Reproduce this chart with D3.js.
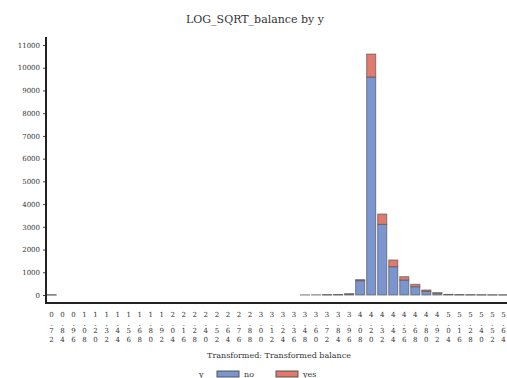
<!DOCTYPE html>
<html>
<head>
<meta charset="utf-8">
<style>
  body { margin: 0; background: #fff; }
  svg { display: block; }
  text { font-family: "DejaVu Serif", serif; fill: #333; }
</style>
</head>
<body>
<svg width="507" height="378"></svg>
<script src="https://d3js.org/d3.v7.min.js"></script>
<script>
// bin labels (transformed balance)
const categories = ["0.72","0.84","0.96","1.08","1.20","1.32","1.44","1.56","1.68","1.80",
  "1.92","2.04","2.16","2.28","2.40","2.52","2.64","2.76","2.88","3.00",
  "3.12","3.24","3.36","3.48","3.60","3.72","3.84","3.96","4.08","4.20",
  "4.32","4.44","4.56","4.68","4.80","4.92","5.04","5.16","5.28","5.40",
  "5.52","5.64"];
// counts per bin, null = empty bin
const noValues = [5,null,null,null,null,null,null,null,null,null,
  null,null,null,null,null,null,null,null,null,null,
  null,null,null,5,8,10,15,45,630,9590,
  3110,1245,660,365,160,80,20,12,8,5,
  4,3];
const yesValues = [1,null,null,null,null,null,null,null,null,null,
  null,null,null,null,null,null,null,null,null,null,
  null,null,null,0,0,1,2,5,45,1010,
  450,295,145,105,60,20,5,3,2,1,
  1,1];
const yTicks = [0,1000,2000,3000,4000,5000,6000,7000,8000,9000,10000,11000];
const seriesNames = ["no","yes"];
const colors = {no: "#7a95cf", yes: "#e07a6c"};

const svg = d3.select("svg");

const x = d3.scaleBand().domain(categories).range([46, 509]).paddingInner(0.18).paddingOuter(0.09);
const y = d3.scaleLinear().domain([-352, 11352]).range([303, 37]);

// title
svg.append("text").attr("x", 255).attr("y", 23).attr("text-anchor", "middle")
  .attr("font-size", "11px").text("LOG_SQRT_balance by y");

// bars
const rows = categories.map((c, i) => ({cat: c, no: noValues[i], yes: yesValues[i]}))
  .filter(d => d.no !== null);
const stacked = d3.stack().keys(seriesNames)(rows);

svg.append("g").selectAll("g").data(stacked).enter().append("g")
  .attr("fill", d => colors[d.key])
  .selectAll("rect").data(d => d).enter().append("rect")
  .attr("x", d => x(d.data.cat))
  .attr("width", x.bandwidth())
  .attr("y", d => y(d[1]))
  .attr("height", d => Math.max(0, y(d[0]) - y(d[1])))
  .attr("stroke", "#555")
  .attr("stroke-opacity", 0.7)
  .attr("stroke-width", 1);

// y axis
const yAxis = svg.append("g").attr("transform", "translate(46,0)")
  .call(d3.axisLeft(y).tickValues(yTicks).tickFormat(d3.format("d")).tickSize(3).tickPadding(3));
yAxis.select(".domain").remove();
yAxis.selectAll("text").attr("font-size", "7px").attr("fill", "#444").style("font-family", "DejaVu Serif");
yAxis.selectAll("line").attr("stroke", "#444");
svg.append("line").attr("x1", 46).attr("x2", 46).attr("y1", 37).attr("y2", 304)
  .attr("stroke", "#222").attr("stroke-width", 2);

// x axis line
svg.append("line").attr("x1", 45).attr("x2", 507).attr("y1", 303).attr("y2", 303)
  .attr("stroke", "#222").attr("stroke-width", 2);

// x tick labels, one character per line
const xl = svg.append("g").selectAll("text").data(categories).enter().append("text")
  .attr("x", d => x(d) + x.bandwidth() / 2)
  .attr("y", 317)
  .attr("text-anchor", "middle")
  .attr("font-size", "7px")
  .attr("fill", "#444");
xl.selectAll("tspan").data(d => d.split("")).enter().append("tspan")
  .attr("x", function() { return this.parentNode.getAttribute("x"); })
  .attr("dy", (d, i) => i === 0 ? 0 : (i === 2 ? 7 : 9))
  .text(d => d);

// x axis title
svg.append("text").attr("x", 279).attr("y", 358).attr("text-anchor", "middle")
  .attr("font-size", "8px").text("Transformed: Transformed balance");

// legend
const lg = svg.append("g");
lg.append("text").attr("x", 199).attr("y", 377).attr("font-size", "8px").text("y");
seriesNames.forEach((s, i) => {
  const lx = 217 + i * 59;
  lg.append("rect").attr("x", lx).attr("y", 371).attr("width", 22).attr("height", 6)
    .attr("fill", colors[s]).attr("stroke", "#555").attr("stroke-width", 1);
  lg.append("text").attr("x", lx + 27).attr("y", 377).attr("font-size", "8px").text(s);
});
</script>
</body>
</html>
